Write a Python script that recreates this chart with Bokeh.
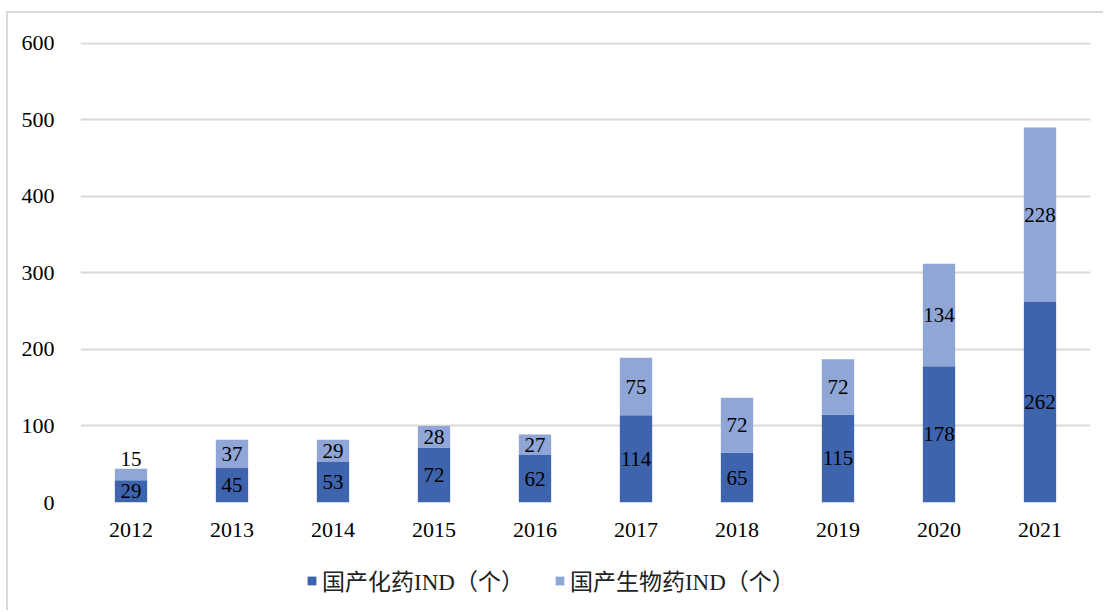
from bokeh.plotting import figure
from bokeh.layouts import column
from bokeh.models import ColumnDataSource, Range1d, FactorRange, Legend, LegendItem
from bokeh.core.properties import value
from bokeh.embed import file_html
from bokeh.resources import INLINE

years = ["2012", "2013", "2014", "2015", "2016", "2017", "2018", "2019", "2020", "2021"]
chem = [29, 45, 53, 72, 62, 114, 65, 115, 178, 262]
bio = [15, 37, 29, 28, 27, 75, 72, 72, 134, 228]
y_ticks = [0, 100, 200, 300, 400, 500, 600]
chem_name = "国产化药IND（个）"
bio_name = "国产生物药IND（个）"

DARK = "#3D64AD"
LIGHT = "#8FA6D6"
NUM_FONT = "Liberation Serif"
CJK_FONT = "'Liberation Serif', 'Noto Sans CJK SC'"

tops = [c + b for c, b in zip(chem, bio)]
src = ColumnDataSource(dict(x=years, chem=chem, bio=bio, top=tops))

W = 1095
p = figure(x_range=FactorRange(*years), y_range=Range1d(0, 601),
           width=W, height=537, output_backend="svg", toolbar_location=None,
           min_border_left=72, min_border_top=29, min_border_right=13, min_border_bottom=48)
p.outline_line_color = None
p.background_fill_color = "white"
p.border_fill_color = "white"

r1 = p.vbar(x="x", bottom=0, top="chem", width=0.32, source=src, fill_color=DARK, line_color=None)
r2 = p.vbar(x="x", bottom="chem", top="top", width=0.32, source=src, fill_color=LIGHT, line_color=None)

# labels
px_per_unit = 460 / 600.0
in_x, in_y, in_t, out_x, out_y, out_t = [], [], [], [], [], []
for yr, c, b in zip(years, chem, bio):
    in_x.append(yr); in_y.append(c / 2); in_t.append(str(c))
    if b * px_per_unit < 20:
        out_x.append(yr); out_y.append(c + b); out_t.append(str(b))
    else:
        in_x.append(yr); in_y.append(c + b / 2); in_t.append(str(b))

p.text(x=in_x, y=in_y, text=in_t, text_font=value(NUM_FONT), text_font_size="21px",
       text_align="center", text_baseline="middle", text_color="black")
p.text(x=out_x, y=out_y, text=out_t, text_font=value(NUM_FONT), text_font_size="21px",
       text_align="center", text_baseline="bottom", text_color="black", y_offset=-3)

p.xgrid.grid_line_color = None
p.ygrid.grid_line_color = "#d9d9d9"
p.ygrid.grid_line_width = 2
p.yaxis.ticker = y_ticks
p.yaxis.axis_line_color = None
p.yaxis.major_tick_line_color = None
p.yaxis.minor_tick_line_color = None
p.yaxis.major_label_text_font = NUM_FONT
p.yaxis.major_label_text_font_size = "22px"
p.yaxis.major_label_text_color = "black"
p.yaxis.major_label_standoff = 20

p.xaxis.axis_line_color = None
p.xaxis.major_tick_line_color = None
p.xaxis.major_label_text_font = NUM_FONT
p.xaxis.major_label_text_font_size = "22px"
p.xaxis.major_label_text_color = "black"
p.xaxis.major_label_standoff = 14

# legend figure (swatch renderers have zero height, so they draw nothing)
lg = figure(x_range=Range1d(0, 1), y_range=Range1d(0, 1), width=W, height=60,
            output_backend="svg", toolbar_location=None,
            x_axis_location=None, y_axis_location=None, min_border=0)
lg.outline_line_color = None
lg.xgrid.grid_line_color = None
lg.ygrid.grid_line_color = None
d1 = lg.vbar(x=[0.5], bottom=[0], top=[0], width=0.1, fill_color=DARK, line_color=None)
d2 = lg.vbar(x=[0.5], bottom=[0], top=[0], width=0.1, fill_color=LIGHT, line_color=None)
legend = Legend(items=[LegendItem(label=chem_name, renderers=[d1]),
                       LegendItem(label=bio_name, renderers=[d2])],
                orientation="horizontal", location=(226, 13),
                glyph_width=11, glyph_height=11, label_standoff=5, spacing=30,
                label_text_font=CJK_FONT, label_text_font_size="23px",
                label_text_color="#222222", border_line_color=None,
                background_fill_alpha=0, padding=4, margin=0)
lg.add_layout(legend, "center")

layout = column(p, lg, spacing=0,
                styles={"border-top": "2px solid #d9d9d9", "border-left": "2px solid #d9d9d9",
                        "margin-left": "6px", "margin-top": "11px"})

open("out.html", "w").write(file_html(layout, INLINE))
